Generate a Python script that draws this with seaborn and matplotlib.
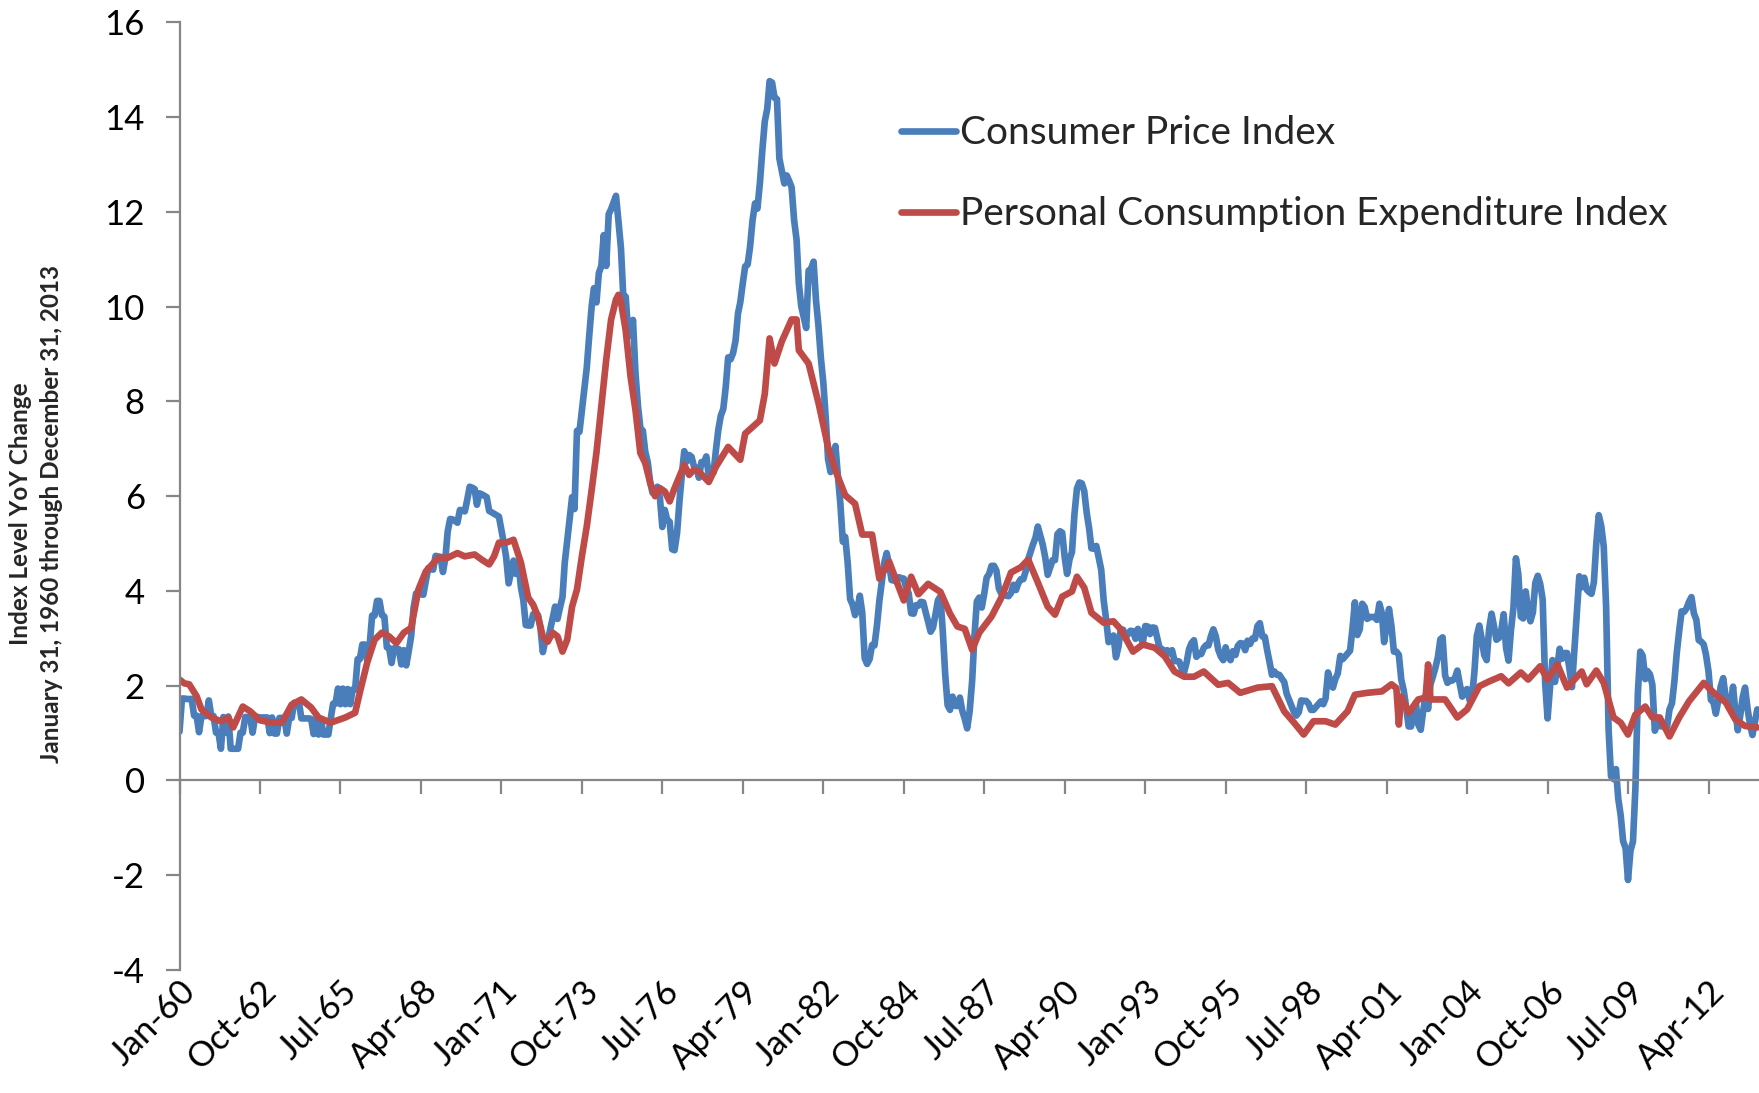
import numpy as np
import pandas as pd
import matplotlib
matplotlib.use('Agg')
import matplotlib.pyplot as plt
import seaborn as sns

# ======================================================
# DATA - year over year change (%)
# ======================================================

# Consumer Price Index, monthly Jan-1960 .. Dec-2013 (one row per year)
cpi_yoy = [
    1.03, 1.73, 1.73, 1.72, 1.72, 1.72, 1.37, 1.37, 1.02, 1.36, 1.36, 1.36,  # 1960
    1.69, 1.36, 1.36, 1.01, 1.01, 0.67, 1.34, 1.01, 1.35, 0.67, 0.67, 0.67,  # 1961
    0.67, 1.01, 1.01, 1.34, 1.34, 1.34, 1.01, 1.34, 1.34, 1.33, 1.33, 1.33,  # 1962
    1.33, 1.00, 1.33, 0.99, 0.99, 1.32, 1.32, 1.32, 0.99, 1.32, 1.32, 1.64,  # 1963
    1.64, 1.64, 1.31, 1.31, 1.31, 1.31, 1.30, 0.98, 1.30, 0.97, 1.29, 0.97,  # 1964
    0.97, 0.97, 1.29, 1.62, 1.62, 1.94, 1.61, 1.94, 1.61, 1.93, 1.61, 1.92,  # 1965
    1.92, 2.56, 2.56, 2.87, 2.87, 2.53, 2.85, 3.48, 3.48, 3.79, 3.79, 3.49,  # 1966
    3.46, 2.81, 2.80, 2.48, 2.79, 2.78, 2.77, 2.45, 2.75, 2.43, 2.73, 3.04,  # 1967
    3.65, 3.95, 3.94, 3.93, 3.92, 4.20, 4.48, 4.46, 4.45, 4.74, 4.73, 4.72,  # 1968
    4.40, 4.70, 5.25, 5.52, 5.51, 5.48, 5.44, 5.71, 5.70, 5.68, 5.93, 6.20,  # 1969
    6.18, 6.15, 5.82, 6.06, 6.04, 6.01, 5.98, 5.69, 5.66, 5.63, 5.60, 5.57,  # 1970
    5.29, 5.00, 4.71, 4.16, 4.40, 4.64, 4.36, 4.62, 4.08, 3.81, 3.28, 3.27,  # 1971
    3.27, 3.51, 3.50, 3.49, 3.23, 2.71, 2.95, 2.94, 3.19, 3.42, 3.67, 3.41,  # 1972
    3.65, 3.87, 4.59, 5.06, 5.53, 5.98, 5.73, 7.38, 7.36, 7.80, 8.25, 8.71,  # 1973
    9.39, 10.02, 10.39, 10.09, 10.71, 10.86, 11.51, 10.86, 11.95, 12.06, 12.20, 12.34,  # 1974
    11.80, 11.23, 10.25, 10.21, 9.47, 9.39, 9.72, 8.60, 7.91, 7.44, 7.38, 6.94,  # 1975
    6.72, 6.29, 6.07, 6.05, 6.20, 5.97, 5.35, 5.71, 5.49, 5.46, 4.88, 4.86,  # 1976
    5.22, 5.91, 6.44, 6.95, 6.73, 6.87, 6.83, 6.62, 6.60, 6.39, 6.72, 6.70,  # 1977
    6.84, 6.43, 6.55, 6.50, 6.97, 7.41, 7.70, 7.84, 8.31, 8.93, 8.89, 9.02,  # 1978
    9.28, 9.86, 10.09, 10.49, 10.85, 10.89, 11.26, 11.82, 12.18, 12.07, 12.61, 13.29,  # 1979
    13.91, 14.18, 14.76, 14.73, 14.41, 14.38, 13.13, 12.87, 12.60, 12.77, 12.65, 12.52,  # 1980
    11.83, 11.41, 10.49, 10.00, 9.78, 9.55, 10.76, 10.80, 10.95, 10.14, 9.59, 8.92,  # 1981
    8.39, 7.62, 6.78, 6.51, 6.68, 7.06, 6.44, 5.85, 5.04, 5.14, 4.59, 3.83,  # 1982
    3.71, 3.49, 3.60, 3.90, 3.55, 2.58, 2.46, 2.56, 2.86, 2.85, 3.27, 3.79,  # 1983
    4.19, 4.60, 4.80, 4.56, 4.23, 4.22, 4.20, 4.29, 4.27, 4.26, 4.05, 3.95,  # 1984
    3.53, 3.52, 3.70, 3.69, 3.77, 3.76, 3.55, 3.35, 3.14, 3.23, 3.51, 3.80,  # 1985
    3.89, 3.11, 2.26, 1.59, 1.49, 1.77, 1.58, 1.57, 1.75, 1.47, 1.30, 1.10,  # 1986
    1.46, 2.10, 3.03, 3.78, 3.86, 3.65, 3.93, 4.28, 4.36, 4.53, 4.53, 4.43,  # 1987
    4.05, 3.94, 3.93, 3.90, 3.89, 3.96, 4.13, 4.02, 4.17, 4.25, 4.25, 4.42,  # 1988
    4.67, 4.83, 4.98, 5.12, 5.36, 5.17, 4.98, 4.71, 4.34, 4.49, 4.65, 4.65,  # 1989
    5.20, 5.26, 5.23, 4.71, 4.36, 4.67, 4.82, 5.62, 6.16, 6.29, 6.27, 6.11,  # 1990
    5.65, 5.31, 4.90, 4.89, 4.95, 4.70, 4.45, 3.80, 3.39, 2.92, 2.99, 3.06,  # 1991
    2.60, 2.82, 3.19, 3.18, 3.02, 3.09, 3.16, 3.15, 2.99, 3.20, 3.05, 2.90,  # 1992
    3.26, 3.25, 3.09, 3.23, 3.22, 3.00, 2.78, 2.77, 2.69, 2.75, 2.68, 2.75,  # 1993
    2.52, 2.52, 2.51, 2.36, 2.29, 2.49, 2.77, 2.90, 2.96, 2.61, 2.67, 2.67,  # 1994
    2.80, 2.86, 2.85, 3.05, 3.19, 3.04, 2.76, 2.62, 2.54, 2.81, 2.61, 2.54,  # 1995
    2.73, 2.65, 2.84, 2.90, 2.89, 2.75, 2.95, 2.88, 3.00, 2.99, 3.26, 3.32,  # 1996
    3.04, 3.03, 2.76, 2.50, 2.23, 2.30, 2.23, 2.23, 2.15, 2.08, 1.83, 1.70,  # 1997
    1.57, 1.44, 1.37, 1.44, 1.69, 1.68, 1.68, 1.62, 1.49, 1.49, 1.55, 1.61,  # 1998
    1.67, 1.61, 1.73, 2.28, 2.09, 1.96, 2.14, 2.26, 2.63, 2.56, 2.62, 2.68,  # 1999
    2.74, 3.22, 3.76, 3.07, 3.19, 3.73, 3.66, 3.41, 3.45, 3.45, 3.45, 3.39,  # 2000
    3.73, 3.53, 2.92, 3.27, 3.62, 3.25, 2.72, 2.72, 2.65, 2.13, 1.90, 1.55,  # 2001
    1.14, 1.14, 1.48, 1.64, 1.18, 1.07, 1.46, 1.80, 1.51, 2.03, 2.20, 2.38,  # 2002
    2.60, 2.98, 3.02, 2.22, 2.06, 2.11, 2.11, 2.16, 2.32, 2.04, 1.77, 1.88,  # 2003
    1.93, 1.69, 1.74, 2.29, 3.05, 3.27, 2.99, 2.65, 2.54, 3.19, 3.52, 3.26,  # 2004
    2.97, 3.01, 3.15, 3.51, 2.80, 2.53, 3.17, 3.64, 4.69, 4.35, 3.46, 3.42,  # 2005
    3.99, 3.60, 3.36, 3.55, 4.17, 4.32, 4.15, 3.82, 2.06, 1.31, 1.97, 2.54,  # 2006
    2.08, 2.42, 2.78, 2.57, 2.69, 2.69, 2.36, 1.97, 2.76, 3.54, 4.31, 4.08,  # 2007
    4.28, 4.03, 3.98, 3.94, 4.18, 5.02, 5.60, 5.37, 4.94, 3.66, 1.07, 0.09,  # 2008
    0.03, 0.24, -0.38, -0.74, -1.28, -1.43, -2.10, -1.48, -1.29, -0.18, 1.84, 2.72,  # 2009
    2.63, 2.14, 2.31, 2.24, 2.02, 1.05, 1.24, 1.15, 1.14, 1.17, 1.14, 1.50,  # 2010
    1.63, 2.11, 2.68, 3.16, 3.57, 3.56, 3.63, 3.77, 3.87, 3.53, 3.39, 2.96,  # 2011
    2.93, 2.87, 2.65, 2.30, 1.70, 1.66, 1.41, 1.69, 1.99, 2.16, 1.76, 1.74,  # 2012
    1.59, 1.98, 1.47, 1.06, 1.36, 1.75, 1.96, 1.52, 1.18, 0.96, 1.24, 1.50,  # 2013
]

# Personal Consumption Expenditure Index
pce_months = [
    '1960-01', '1960-03', '1960-05', '1960-08', '1960-10', '1961-02', '1961-06', '1961-09',
    '1961-11', '1962-03', '1962-06', '1962-10', '1963-03', '1963-07', '1963-11', '1964-03',
    '1964-07', '1964-10', '1965-03', '1965-09', '1966-01', '1966-03', '1966-06', '1966-09',
    '1966-12', '1967-03', '1967-06', '1967-09', '1967-12', '1968-03', '1968-06', '1968-11',
    '1969-03', '1969-07', '1969-10', '1970-02', '1970-05', '1970-08', '1970-10', '1970-12',
    '1971-03', '1971-06', '1971-09', '1971-12', '1972-02', '1972-04', '1972-06', '1972-08',
    '1972-10', '1972-12', '1973-02', '1973-04', '1973-06', '1973-08', '1973-10', '1973-12',
    '1974-02', '1974-04', '1974-06', '1974-08', '1974-10', '1974-12', '1975-01', '1975-02',
    '1975-04', '1975-06', '1975-08', '1975-10', '1975-12', '1976-02', '1976-04', '1976-06',
    '1976-08', '1976-10', '1976-12', '1977-02', '1977-04', '1977-06', '1977-08', '1977-10',
    '1978-02', '1978-05', '1978-10', '1979-03', '1979-05', '1979-11', '1980-01', '1980-03',
    '1980-05', '1980-08', '1980-12', '1981-02', '1981-03', '1981-07', '1981-11', '1982-03',
    '1982-06', '1982-10', '1983-02', '1983-05', '1983-09', '1983-12', '1984-04', '1984-10',
    '1985-01', '1985-04', '1985-08', '1986-01', '1986-05', '1986-08', '1986-11', '1987-02',
    '1987-05', '1987-10', '1988-02', '1988-06', '1988-10', '1989-01', '1989-05', '1989-09',
    '1989-12', '1990-03', '1990-07', '1990-09', '1990-12', '1991-03', '1991-08', '1991-12',
    '1992-03', '1992-08', '1992-12', '1993-05', '1993-09', '1994-01', '1994-05', '1994-09',
    '1995-01', '1995-07', '1995-11', '1996-04', '1996-11', '1997-05', '1997-10', '1998-02',
    '1998-06', '1998-10', '1999-03', '1999-07', '1999-12', '2000-03', '2000-08', '2001-02',
    '2001-06', '2001-08', '2001-09', '2001-10', '2002-01', '2002-05', '2002-08', '2002-09',
    '2002-10', '2003-04', '2003-09', '2004-01', '2004-06', '2004-10', '2005-03', '2005-06',
    '2005-11', '2006-02', '2006-07', '2006-10', '2007-02', '2007-06', '2007-12', '2008-02',
    '2008-06', '2008-09', '2009-01', '2009-04', '2009-07', '2009-10', '2010-02', '2010-05',
    '2010-08', '2010-12', '2011-04', '2011-08', '2012-02', '2012-07', '2012-11', '2013-03',
    '2013-07', '2013-12',
]
pce_yoy = [
    2.13, 2.05, 2.03, 1.78, 1.50, 1.33, 1.25, 1.33,
    1.12, 1.56, 1.46, 1.27, 1.22, 1.22, 1.60, 1.71,
    1.54, 1.33, 1.22, 1.33, 1.43, 1.86, 2.49, 2.97,
    3.12, 3.04, 2.90, 3.12, 3.22, 4.03, 4.41, 4.70,
    4.70, 4.80, 4.73, 4.77, 4.66, 4.56, 4.73, 5.02,
    5.02, 5.08, 4.60, 3.86, 3.71, 3.46, 3.04, 2.93,
    3.12, 3.04, 2.72, 2.97, 3.67, 4.03, 4.73, 5.36,
    6.14, 6.92, 7.89, 8.88, 9.73, 10.15, 10.25, 10.10,
    9.50, 8.52, 7.82, 6.91, 6.70, 6.28, 6.00, 6.17,
    6.10, 5.89, 6.17, 6.42, 6.66, 6.45, 6.56, 6.52,
    6.30, 6.62, 7.04, 6.77, 7.32, 7.60, 8.16, 9.33,
    8.80, 9.27, 9.73, 9.73, 9.08, 8.80, 7.97, 7.04,
    6.54, 6.02, 5.84, 5.19, 5.19, 4.26, 4.62, 3.80,
    4.30, 3.93, 4.15, 3.98, 3.52, 3.25, 3.20, 2.76,
    3.12, 3.46, 3.86, 4.39, 4.50, 4.66, 4.18, 3.67,
    3.50, 3.88, 3.99, 4.30, 4.07, 3.54, 3.33, 3.36,
    3.19, 2.72, 2.87, 2.80, 2.62, 2.30, 2.19, 2.19,
    2.30, 2.02, 2.06, 1.85, 1.96, 1.99, 1.46, 1.22,
    0.97, 1.25, 1.25, 1.18, 1.46, 1.81, 1.85, 1.88,
    2.03, 1.95, 1.18, 1.77, 1.43, 1.71, 1.75, 2.45,
    1.71, 1.71, 1.33, 1.50, 1.99, 2.09, 2.20, 2.05,
    2.28, 2.13, 2.41, 2.13, 2.45, 1.96, 2.30, 2.03,
    2.32, 2.06, 1.33, 1.22, 0.97, 1.39, 1.56, 1.33,
    1.33, 0.93, 1.33, 1.67, 2.06, 1.81, 1.65, 1.29,
    1.15, 1.12,
]

# X axis tick labels (every 33 months, as on the original)
tick_months = [
    '1960-01', '1962-10', '1965-07', '1968-04', '1971-01', '1973-10', '1976-07',
    '1979-04', '1982-01', '1984-10', '1987-07', '1990-04', '1993-01', '1995-10',
    '1998-07', '2001-04', '2004-01', '2006-10', '2009-07', '2012-04',
]

# ======================================================
# BUILD FRAMES
# ======================================================

cpi = pd.DataFrame({
    'date': pd.date_range('1960-01-01', '2013-12-01', freq='MS'),
    'value': cpi_yoy
})
pce = pd.DataFrame({
    'date': pd.to_datetime(pce_months),
    'value': pce_yoy
})
tick_dates = pd.to_datetime(tick_months)

# ======================================================
# PLOT
# ======================================================

sns.set_style('white')
plt.rcParams['font.family'] = ['Lato', 'DejaVu Sans']
plt.rcParams['axes.unicode_minus'] = False

W, H = 1759, 1093
fig = plt.figure(figsize=(W / 100, H / 100), dpi=100)
ax = fig.add_axes([179.5 / W, 1 - 970 / H, 1579.5 / W, (970 - 22.4) / H])

sns.lineplot(data=cpi, x='date', y='value', color='#4A7EBB', linewidth=4.8,
             label='Consumer Price Index', ax=ax)
sns.lineplot(data=pce, x='date', y='value', color='#BE4B48', linewidth=4.8,
             label='Personal Consumption Expenditure Index', ax=ax)

ax.set_ylim(-4, 16)
ax.set_yticks(range(-4, 17, 2))
ax.set_xlim(pd.Timestamp('1960-01-01'), pd.Timestamp('2013-12-22'))
ax.set_xlabel('')
ax.set_ylabel('')

# axes look (Excel style)
axis_grey = '#868686'
for side in ['top', 'right']:
    ax.spines[side].set_visible(False)
for side in ['left', 'bottom']:
    ax.spines[side].set_color(axis_grey)
    ax.spines[side].set_linewidth(1.6)
ax.spines['bottom'].set_position(('data', 0))

ax.tick_params(axis='both', which='major', direction='out', length=10, width=1.6,
               color=axis_grey, labelsize=25, labelcolor='black',
               bottom=True, left=True)
ax.tick_params(axis='y', pad=15)
ax.tick_params(axis='x', pad=130)

# date ticks, rotated labels hanging below the plot
ax.set_xticks(tick_dates)
ax.set_xticklabels([d.strftime('%b-%y') for d in tick_dates])
for lbl in ax.get_xticklabels():
    lbl.set_rotation(45)
    lbl.set_ha('right')
    lbl.set_rotation_mode('anchor')

# legend
ax.legend(loc='upper left', bbox_to_anchor=(0.457, 0.902), frameon=False,
          fontsize=28, handlelength=1.4, handletextpad=0.1, labelspacing=1.16,
          borderpad=0, borderaxespad=0)

# y axis title (two centered bold lines)
fig.text(36 / W, 1 - 514 / H,
         'Index Level YoY Change\nJanuary 31, 1960 through December 31, 2013',
         rotation=90, ha='center', va='center', fontsize=17.5, fontweight='bold',
         multialignment='center', linespacing=1.4)

plt.savefig('out.png', dpi=100)
plt.close()
